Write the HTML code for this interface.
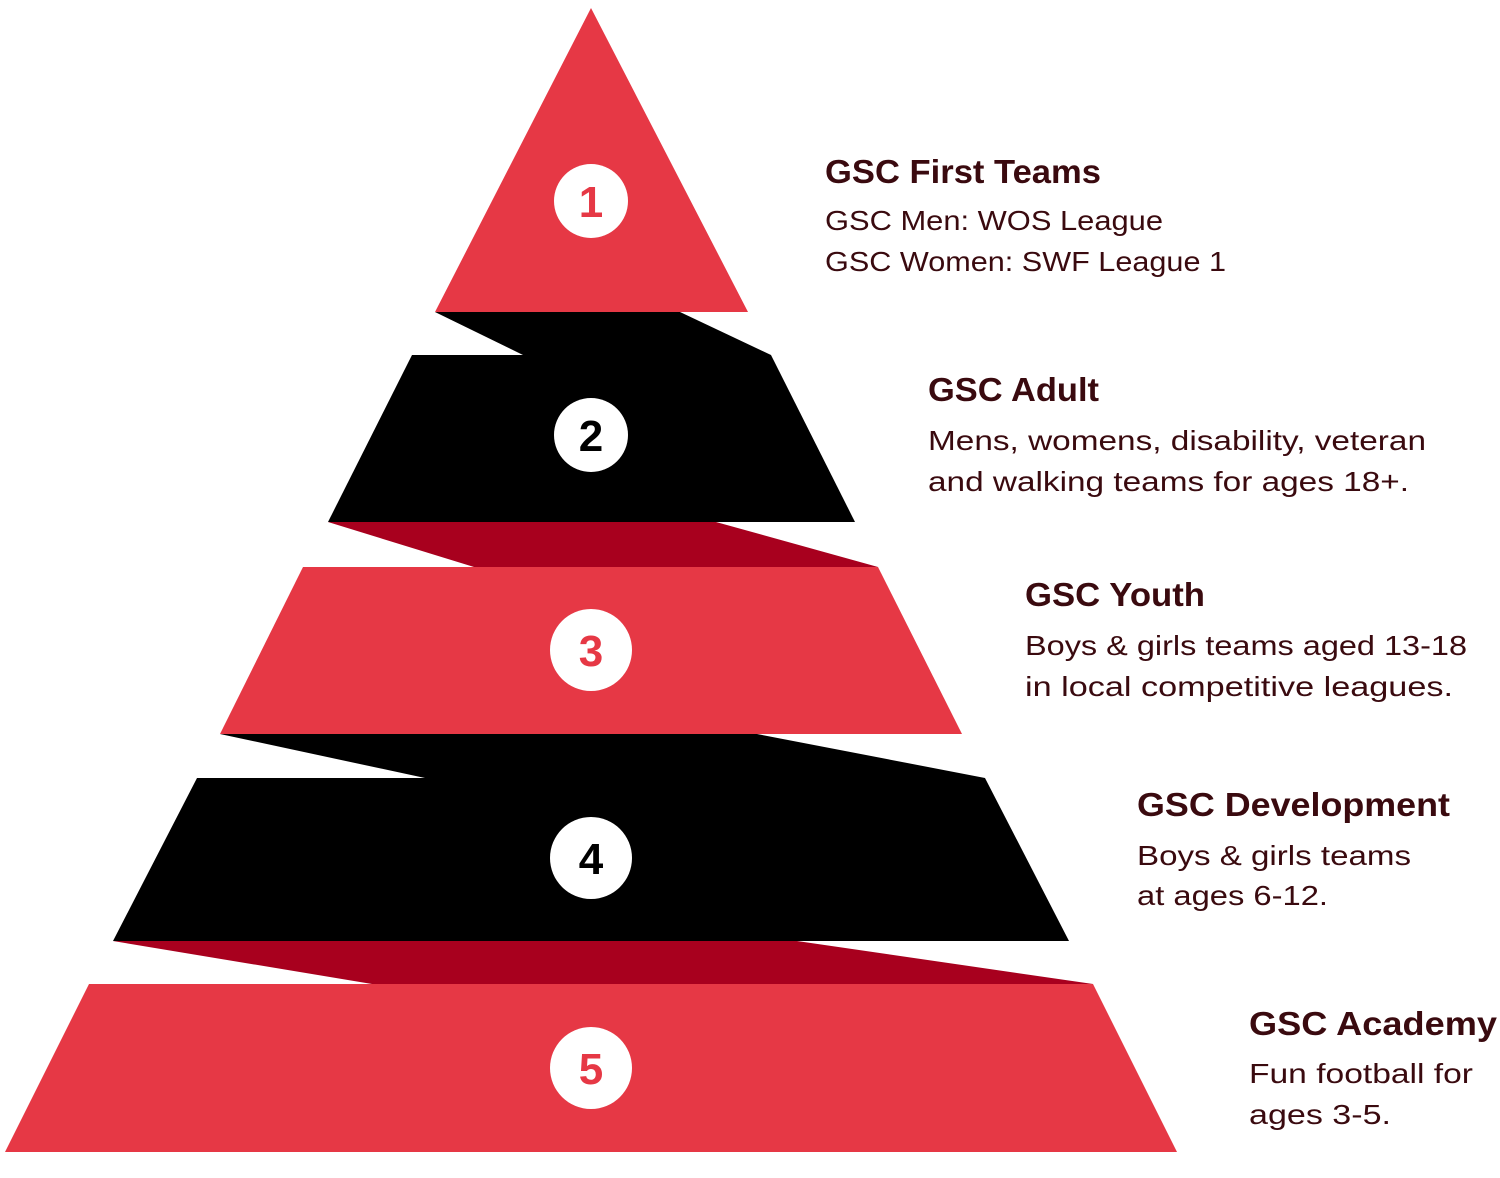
<!DOCTYPE html>
<html><head><meta charset="utf-8"><style>
html,body{margin:0;padding:0;background:#fff;}
svg{display:block;}
.h{font-family:"Liberation Sans",sans-serif;font-weight:bold;font-size:33px;fill:#3a0a0f;}
.b{font-family:"Liberation Sans",sans-serif;font-size:28px;fill:#3a0a0f;}
.n{font-family:"Liberation Sans",sans-serif;font-weight:bold;font-size:44px;text-anchor:middle;}
</style></head><body>
<svg width="1500" height="1178" viewBox="0 0 1500 1178" xmlns="http://www.w3.org/2000/svg">
<polygon points="591,8 435,312 748,312" fill="#e63845"/>
<polygon points="435,312 680,312 771,355 523,355" fill="#000"/>
<polygon points="412,355 771,355 855,522 328,522" fill="#000"/>
<polygon points="328,522 716,522 878,567 474,567" fill="#a8001e"/>
<polygon points="303,567 878,567 962,734 220,734" fill="#e63845"/>
<polygon points="220,734 757,734 985,778 425,778" fill="#000"/>
<polygon points="197,778 985,778 1069,941 113,941" fill="#000"/>
<polygon points="113,941 797,941 1093,984 372,984" fill="#a8001e"/>
<polygon points="89,984 1093,984 1177,1152 5,1152" fill="#e63845"/>

<circle cx="591" cy="201" r="37" fill="#fff"/><text class="n" x="591" y="217" fill="#e63845">1</text>
<circle cx="591" cy="435" r="37" fill="#fff"/><text class="n" x="591" y="451" fill="#000">2</text>
<circle cx="591" cy="650" r="41" fill="#fff"/><text class="n" x="591" y="666" fill="#e63845">3</text>
<circle cx="591" cy="858" r="41" fill="#fff"/><text class="n" x="591" y="874" fill="#000">4</text>
<circle cx="591" cy="1068" r="41" fill="#fff"/><text class="n" x="591" y="1084" fill="#e63845">5</text>

<text class="h" x="825" y="183" textLength="276" lengthAdjust="spacingAndGlyphs">GSC First Teams</text>
<text class="b" x="825" y="230" textLength="338" lengthAdjust="spacingAndGlyphs">GSC Men: WOS League</text>
<text class="b" x="825" y="271" textLength="401" lengthAdjust="spacingAndGlyphs">GSC Women: SWF League 1</text>

<text class="h" x="928" y="401" textLength="171" lengthAdjust="spacingAndGlyphs">GSC Adult</text>
<text class="b" x="928" y="450" textLength="498" lengthAdjust="spacingAndGlyphs">Mens, womens, disability, veteran</text>
<text class="b" x="928" y="491" textLength="481" lengthAdjust="spacingAndGlyphs">and walking teams for ages 18+.</text>

<text class="h" x="1025" y="606" textLength="180" lengthAdjust="spacingAndGlyphs">GSC Youth</text>
<text class="b" x="1025" y="655" textLength="442" lengthAdjust="spacingAndGlyphs">Boys &amp; girls teams aged 13-18</text>
<text class="b" x="1025" y="696" textLength="428" lengthAdjust="spacingAndGlyphs">in local competitive leagues.</text>

<text class="h" x="1137" y="816" textLength="313" lengthAdjust="spacingAndGlyphs">GSC Development</text>
<text class="b" x="1137" y="865" textLength="274" lengthAdjust="spacingAndGlyphs">Boys &amp; girls teams</text>
<text class="b" x="1137" y="905" textLength="191" lengthAdjust="spacingAndGlyphs">at ages 6-12.</text>

<text class="h" x="1249" y="1035" textLength="248" lengthAdjust="spacingAndGlyphs">GSC Academy</text>
<text class="b" x="1249" y="1083" textLength="224" lengthAdjust="spacingAndGlyphs">Fun football for</text>
<text class="b" x="1249" y="1124" textLength="142" lengthAdjust="spacingAndGlyphs">ages 3-5.</text>
</svg>
</body></html>
